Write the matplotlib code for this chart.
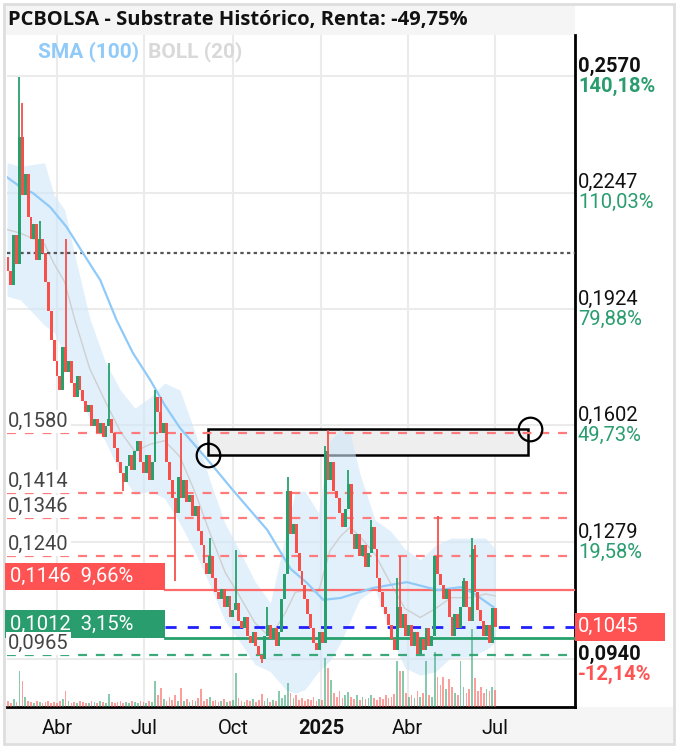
import matplotlib
matplotlib.use("Agg")
import matplotlib.pyplot as plt
import matplotlib.dates as mdates
from matplotlib.patches import Rectangle
from matplotlib.transforms import blended_transform_factory
import pandas as pd

plt.rcParams['font.family'] = ['Roboto', 'DejaVu Sans']

W, H = 678, 748
RED = '#f6504a'
GREEN = '#26a06c'

# price series (one candle every 3 days)
closes = [
    0.203, 0.199, 0.213, 0.205, 0.240, 0.224, 0.230, 0.218, 0.212, 0.216,
    0.206, 0.212, 0.208, 0.200, 0.192, 0.184, 0.178, 0.174, 0.170, 0.182,
    0.175, 0.178, 0.172, 0.168, 0.174, 0.170, 0.167, 0.164, 0.166, 0.160,
    0.162, 0.158, 0.161, 0.157, 0.160, 0.162, 0.158, 0.154, 0.150, 0.147,
    0.1445, 0.149, 0.152, 0.148, 0.153, 0.156, 0.150, 0.147, 0.152, 0.145,
    0.150, 0.168, 0.164, 0.158, 0.161, 0.150, 0.145, 0.140, 0.136, 0.146,
    0.140, 0.145, 0.139, 0.141, 0.135, 0.138, 0.131, 0.127, 0.122, 0.119,
    0.124, 0.118, 0.114, 0.112, 0.115, 0.110, 0.113, 0.107, 0.109, 0.111,
    0.106, 0.104, 0.107, 0.102, 0.100, 0.103, 0.099, 0.0965, 0.0955, 0.102,
    0.105, 0.101, 0.104, 0.099, 0.103, 0.112, 0.119, 0.142, 0.130, 0.133,
    0.125, 0.120, 0.116, 0.112, 0.108, 0.104, 0.100, 0.098, 0.103, 0.100,
    0.153, 0.145, 0.150, 0.142, 0.140, 0.136, 0.132, 0.137, 0.144, 0.130,
    0.126, 0.130, 0.124, 0.127, 0.121, 0.125, 0.132, 0.126, 0.118, 0.114,
    0.110, 0.108, 0.105, 0.101, 0.098, 0.110, 0.104, 0.108, 0.102, 0.105,
    0.099, 0.103, 0.097, 0.101, 0.098, 0.104, 0.099, 0.102, 0.124, 0.119,
    0.116, 0.112, 0.115, 0.107, 0.102, 0.108, 0.104, 0.110, 0.117, 0.110,
    0.106, 0.126, 0.114, 0.109, 0.106, 0.102, 0.105, 0.100, 0.1095, 0.1045,
]
first_open = 0.207
spike_high = {4: 0.2567, 5: 0.2495, 11: 0.217, 20: 0.212, 35: 0.1775, 51: 0.170,
              53: 0.168, 60: 0.158, 70: 0.129, 79: 0.1257, 90: 0.110, 97: 0.146,
              110: 0.1545, 111: 0.159, 118: 0.148, 126: 0.134, 135: 0.118,
              136: 0.124, 149: 0.135, 158: 0.118, 161: 0.129, 162: 0.127}
spike_low = {40: 0.142, 58: 0.117, 88: 0.0944}

volumes = [
    6, 4, 8, 5, 36, 26, 10, 6, 5, 4, 6, 5, 4, 5, 6, 4, 5, 4, 6, 8,
    16, 6, 4, 5, 4, 6, 5, 4, 4, 6, 5, 4, 6, 5, 4, 13, 5, 4, 5, 6,
    4, 5, 4, 6, 5, 4, 6, 5, 4, 6, 5, 26, 12, 19, 8, 6, 10, 7, 12, 6,
    19, 6, 8, 5, 7, 6, 9, 18, 6, 8, 10, 6, 7, 5, 6, 8, 5, 6, 7, 34,
    9, 6, 5, 7, 6, 8, 5, 7, 13, 6, 9, 5, 7, 6, 16, 9, 12, 24, 14, 9,
    12, 7, 9, 6, 8, 7, 10, 6, 8, 7, 49, 39, 27, 14, 10, 16, 9, 12, 15, 10,
    8, 12, 7, 10, 8, 9, 12, 9, 7, 10, 8, 12, 9, 10, 13, 46, 36, 36, 14, 10,
    12, 9, 16, 10, 14, 46, 12, 10, 55, 30, 22, 30, 18, 28, 20, 14, 12, 46, 20, 14,
    18, 78, 29, 16, 20, 14, 18, 16, 20, 17,
]

sma_dates = ['2024-02-09', '2024-02-23', '2024-03-07', '2024-03-25', '2024-04-11',
             '2024-04-28', '2024-05-16', '2024-06-02', '2024-06-19', '2024-07-07',
             '2024-07-22', '2024-08-07', '2024-09-07', '2024-10-01', '2024-11-06',
             '2024-11-30', '2024-12-17', '2025-01-03', '2025-01-21', '2025-02-24',
             '2025-03-31', '2025-05-02', '2025-05-26', '2025-06-08', '2025-06-29']
sma_vals = [0.2290, 0.2263, 0.2246, 0.2207, 0.2152, 0.2080, 0.2005, 0.1894, 0.1803,
            0.1728, 0.1659, 0.1595, 0.1500, 0.1423, 0.1312, 0.1205, 0.1166, 0.1119,
            0.1124, 0.1152, 0.1168, 0.1146, 0.1154, 0.1138, 0.1099]

boll_dates = ['2024-02-09', '2024-02-23', '2024-03-19', '2024-03-29', '2024-04-09',
              '2024-04-19', '2024-05-05', '2024-05-21', '2024-06-06', '2024-06-21',
              '2024-07-07', '2024-07-22', '2024-08-07', '2024-08-23', '2024-09-07',
              '2024-09-23', '2024-10-09', '2024-10-24', '2024-11-09', '2024-11-25',
              '2024-12-05', '2024-12-15', '2024-12-29', '2025-01-10', '2025-01-21',
              '2025-01-31', '2025-02-10', '2025-02-26', '2025-03-14', '2025-03-29',
              '2025-04-14', '2025-04-30', '2025-05-16', '2025-06-05', '2025-06-21',
              '2025-07-01']
boll_upper = [0.2330, 0.2320, 0.2330, 0.2240, 0.2200, 0.2080, 0.1900, 0.1780, 0.1700,
              0.1650, 0.1680, 0.1720, 0.1700, 0.1580, 0.1450, 0.1330, 0.1250, 0.1170,
              0.1110, 0.1300, 0.1420, 0.1420, 0.1360, 0.1560, 0.1590, 0.1580, 0.1470,
              0.1340, 0.1310, 0.1260, 0.1230, 0.1270, 0.1290, 0.1290, 0.1290, 0.1260]
boll_lower = [0.1960, 0.1950, 0.1880, 0.1860, 0.1800, 0.1720, 0.1620, 0.1560, 0.1470,
              0.1410, 0.1420, 0.1400, 0.1330, 0.1250, 0.1160, 0.1060, 0.1000, 0.0940,
              0.0920, 0.0870, 0.0860, 0.0870, 0.0920, 0.0950, 0.1000, 0.1060, 0.1120,
              0.1150, 0.1020, 0.0930, 0.0910, 0.0920, 0.0960, 0.0960, 0.0980, 0.1000]

right_prices = [0.2570, 0.2247, 0.1924, 0.1602, 0.1279]
right_pcts = ['140,18%', '110,03%', '79,88%', '49,73%', '19,58%']
left_levels = [0.1580, 0.1414, 0.1346, 0.1240]
support_level = 0.0965
entry_price = 0.2080
last_price = 0.1045
stop_level = 0.1146
target_level = 0.1012
low_price = 0.0940

month_ticks = ['2024-04-01', '2024-07-01', '2024-10-01', '2025-01-01', '2025-04-01', '2025-07-01']
month_labels = ['Abr', 'Jul', 'Oct', '2025', 'Abr', 'Jul']

# ---------------------------------------------------------------
dates = pd.date_range('2024-02-10', periods=len(closes), freq='3D')
xd = mdates.date2num(dates)
opens = [first_open] + closes[:-1]
highs = [spike_high.get(i, max(o, c)) for i, (o, c) in enumerate(zip(opens, closes))]
lows = [spike_low.get(i, min(o, c)) for i, (o, c) in enumerate(zip(opens, closes))]
cols = [GREEN if c >= o else RED for o, c in zip(opens, closes)]

fig = plt.figure(figsize=(W / 100, H / 100), dpi=100)
fig.patch.set_facecolor('white')

def px(x, y):
    return x / W, 1 - y / H

# frame pieces
fig.patches.append(Rectangle(px(5, 35), 570 / W, 30 / H, transform=fig.transFigure,
                             fc='#f5f5f5', ec='none', zorder=-1))
fig.patches.append(Rectangle(px(5, 743), 668 / W, 36 / H, transform=fig.transFigure,
                             fc='#f5f5f5', ec='none', zorder=-1))
fig.patches.append(Rectangle(px(4, 744), 670 / W, 740 / H, transform=fig.transFigure,
                             fc='none', ec='#dedede', lw=2, zorder=-1))

ax = fig.add_axes([7 / W, 1 - 707 / H, 568 / W, 672 / H])
x0 = mdates.date2num(pd.Timestamp('2024-02-09'))
x1 = mdates.date2num(pd.Timestamp('2025-09-22'))
ax.set_xlim(x0, x1)
ax.set_ylim(0.0822, 0.2684)
for s in ['top', 'left']:
    ax.spines[s].set_visible(False)
ax.spines['right'].set_color('black')
ax.spines['right'].set_linewidth(2)
ax.spines['bottom'].set_color('black')
ax.spines['bottom'].set_linewidth(2)
ax.set_yticks([])

# grid
for p in right_prices + [0.0956]:
    ax.axhline(p, color='#ebebeb', lw=1.5, zorder=0)
mt = mdates.date2num(pd.to_datetime(month_ticks))
for m in mt:
    ax.axvline(m, color='#ebebeb', lw=1.5, zorder=0)
ax.set_xticks(mt)
ax.set_xticklabels(month_labels)
ax.tick_params(axis='x', length=0, pad=9, labelsize=14.5, labelcolor='#111')
ax.get_xticklabels()[3].set_fontweight('bold')

# annotation rectangle
r0 = mdates.date2num(pd.Timestamp('2024-09-05'))
r1 = mdates.date2num(pd.Timestamp('2025-08-04'))
ax.add_patch(Rectangle((r0, 0.1520), r1 - r0, 0.1592 - 0.1520, fc='#eeeeee',
                       ec='black', lw=1.8, zorder=1))
ax.plot([r0], [0.1520], marker='o', ms=17, mfc='none', mec='black', mew=1.6, zorder=7)
ax.plot([mdates.date2num(pd.Timestamp('2025-08-06'))], [0.1592], marker='o', ms=17,
        mfc='none', mec='black', mew=1.6, zorder=7, clip_on=False)

# bollinger + sma
bd = mdates.date2num(pd.to_datetime(boll_dates))
ax.fill_between(bd, boll_lower, boll_upper, color='#cfe6fa', alpha=0.6, lw=0, zorder=2)
ax.plot(bd, [(u + l) / 2 for u, l in zip(boll_upper, boll_lower)], color='#cfcfcf',
        lw=1, zorder=2.5)
ax.plot(mdates.date2num(pd.to_datetime(sma_dates)), sma_vals, color='#90caf9', lw=1.6,
        zorder=4)

# level lines
ax.axhline(entry_price, color='#555555', lw=1.6, ls=(0, (1.5, 1.5)), zorder=3)
for p in left_levels:
    ax.axhline(p, color='#ff7b7b', lw=1.6, ls=(0, (4, 4)), zorder=3)
ax.axhline(support_level, color=GREEN, lw=1.6, ls=(0, (4, 4)), zorder=3, alpha=0.9)
xb = 158 / 568
ax.axhline(stop_level, xmin=xb, xmax=1, color='#ff6b6b', lw=1.6, zorder=3)
ax.axhline(last_price, xmin=xb, xmax=1, color='#2020ff', lw=2, ls=(0, (4, 4)), zorder=3)
ax.axhline(target_level, xmin=xb, xmax=1, color=GREEN, lw=2, zorder=3)

# candles
heights = [max(abs(c - o), 0.0005) for o, c in zip(opens, closes)]
bottoms = [min(o, c) for o, c in zip(opens, closes)]
ax.vlines(xd, lows, highs, colors=cols, lw=1.3, zorder=5)
ax.bar(xd, heights, bottom=bottoms, width=3.0, color=cols, lw=0, zorder=5)

# volume
vax = ax.twinx()
vax.set_ylim(0, 672)
vax.set_axis_off()
vax.bar(xd, volumes, width=1.8, color=cols, alpha=0.55, lw=0)

# labels
bt = blended_transform_factory(ax.transAxes, ax.transData)
for p, t in zip(left_levels + [support_level],
                ['0,1580', '0,1414', '0,1346', '0,1240', '0,0965']):
    ax.text(1 / 568, p + 0.0006, t, transform=bt, fontsize=14.5, color='#444444',
            va='bottom', ha='left', zorder=10,
            bbox=dict(fc='white', ec='none', pad=1.5))

ph = 0.000277
ax.add_patch(Rectangle((-2 / 568, stop_level), 160 / 568, 27 * ph, transform=bt,
                       fc='#ff5252', ec='none', zorder=8, clip_on=False))
ax.text(3 / 568, stop_level + 13.5 * ph, '0,1146  9,66%', transform=bt, color='white',
        fontsize=14.5, va='center', zorder=9)
ax.add_patch(Rectangle((-2 / 568, target_level), 160 / 568, 28 * ph, transform=bt,
                       fc='#2a9d6e', ec='none', zorder=8, clip_on=False))
ax.text(3 / 568, target_level + 14 * ph, '0,1012  3,15%', transform=bt, color='white',
        fontsize=14.5, va='center', zorder=8.5)

xr = 571 / 568
for i, (p, t) in enumerate(zip(right_prices, right_pcts)):
    w = 'bold' if i == 0 else 'normal'
    ax.text(xr, p + 10 * ph, '0,' + f'{p:.4f}'[2:], transform=bt, fontsize=14.5,
            color='#111111', va='center', ha='left', fontweight=w, clip_on=False)
    ax.text(xr, p - 10 * ph, t, transform=bt, fontsize=14.5, color='#2a9d6e',
            va='center', ha='left', fontweight=w, clip_on=False)
ax.text(xr, low_price + 10 * ph, '0,0940', transform=bt, fontsize=14.5, color='#111111',
        va='center', ha='left', fontweight='bold', clip_on=False)
ax.text(xr, low_price - 10 * ph, '-12,14%', transform=bt, fontsize=14.5, color='#ff5252',
        va='center', ha='left', fontweight='bold', clip_on=False)
ax.add_patch(Rectangle((1, last_price - 14 * ph), 90 / 568, 28 * ph, transform=bt,
                       fc='#ff5252', ec='none', zorder=8, clip_on=False))
ax.text(xr, last_price, '0,1045', transform=bt, fontsize=14.5, color='white',
        va='center', ha='left', zorder=9, clip_on=False)

# title and legend
fig.text(*px(8, 20), 'PCBOLSA - Substrate Histórico, Renta: -49,75%', fontsize=14.5,
         fontweight='bold', family='Open Sans', va='center', ha='left', color='#111')
fig.text(*px(38, 52), 'SMA (100)', fontsize=15, fontweight='bold', color='#90caf9',
         va='center', ha='left')
fig.text(*px(148, 52), 'BOLL (20)', fontsize=15, fontweight='bold', color='#d9d9d9',
         va='center', ha='left')

fig.savefig('out.png', dpi=100)
